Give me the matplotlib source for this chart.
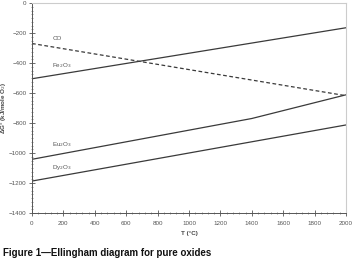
import matplotlib
matplotlib.use("Agg")
import matplotlib.pyplot as plt
from matplotlib.ticker import MultipleLocator

temps_line = [0, 2000]
co_vals = [-270, -618]
fe2o3_vals = [-505, -165]
eu_temps = [0, 1400, 2000]
eu2o3_vals = [-1042, -770, -612]
dy2o3_vals = [-1187, -813]

labels = ["CO", r"Fe$_2$O$_3$", r"Eu$_2$O$_3$", r"Dy$_2$O$_3$"]
label_pos = [(130, -255), (130, -450), (130, -975), (130, -1130)]

x_ticks = list(range(0, 2001, 200))
y_ticks = list(range(-1400, 1, 200))

plt.rcParams['font.family'] = ['Liberation Sans', 'DejaVu Sans']

fig = plt.figure(figsize=(3.54, 2.66), dpi=100)
ax = fig.add_axes([32/354, 53/266, 314/354, 210/266])

lc = '#3a3a3a'
ax.plot(temps_line, co_vals, color=lc, lw=0.9, ls=(0, (3, 2)))
ax.plot(temps_line, fe2o3_vals, color=lc, lw=0.9)
ax.plot(eu_temps, eu2o3_vals, color=lc, lw=0.9)
ax.plot(temps_line, dy2o3_vals, color=lc, lw=0.9)

for lab, (x, y) in zip(labels, label_pos):
    ax.text(x, y, lab, fontsize=4.5, color='#555555', ha='left', va='bottom')

ax.set_xlim(0, 2000)
ax.set_ylim(-1400, 0)
ax.set_xticks(x_ticks)
ax.set_yticks(y_ticks)
ax.xaxis.set_minor_locator(MultipleLocator(40))
ax.yaxis.set_minor_locator(MultipleLocator(25))
ax.tick_params(axis='both', which='major', direction='inout', length=4, width=0.6,
               labelsize=4.5, labelcolor='#555555', color='#555555', pad=2)
ax.tick_params(axis='both', which='minor', direction='inout', length=2, width=0.5, color='#777777')
ax.tick_params(axis='x', pad=4)

for s in ['top', 'right']:
    ax.spines[s].set_color('#cccccc')
    ax.spines[s].set_linewidth(0.8)
for s in ['left', 'bottom']:
    ax.spines[s].set_color('#555555')
    ax.spines[s].set_linewidth(0.7)

ax.set_xlabel('T (°C)', fontsize=4.5, fontweight='bold', color='#444444', labelpad=3)
ax.set_ylabel('ΔG° (kJ/mole O$_2$)', fontsize=4.5, fontweight='bold', color='#444444')
ax.yaxis.set_label_coords(-0.078, 0.5)

fig.text(3/354, 1 - 253/266, 'Figure 1\u2014Ellingham diagram for pure oxides',
         fontsize=7, fontweight='bold', color='#111111', ha='left', va='center')

fig.savefig('out.png', dpi=100)
